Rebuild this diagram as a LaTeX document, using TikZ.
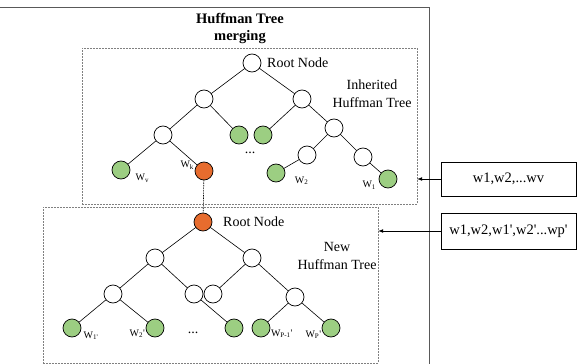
\documentclass[tikz,border=0pt]{standalone}
\usepackage{fontspec}
\setmainfont{Liberation Serif}
\usepackage{tikz}
\usepackage{tkz-graph}
\usetikzlibrary{arrows}

\definecolor{leafgreen}{RGB}{156,206,130}
\definecolor{mergeorange}{RGB}{231,108,46}

\tikzset{
  treebox/.style={draw=gray, dash pattern=on 2pt off 1pt, minimum width=335pt, minimum height=156pt, inner sep=0pt},
  listbox/.style={draw, line width=0.7pt, minimum width=135pt, inner sep=0pt, font=\fontsize{14.5}{16}\selectfont},
  treetext/.style={font=\fontsize{14}{18}\selectfont, align=center, inner sep=0pt},
  every label/.style={font=\rmfamily\fontsize{10}{11}\selectfont, inner sep=0pt}
}

\begin{document}
\begin{tikzpicture}[x=1pt,y=1pt]
            \clip (0,0) rectangle (579,-364);
            \draw[line width=0.9pt, gray!70!black] (0,-7) -- (429,-7) -- (429,-364);
            \node[treetext, font=\rmfamily\bfseries\fontsize{14.5}{17}\selectfont] (title) at (240,-28.5) {Huffman Tree\\merging};

            \node[treebox] (oldbox) at (249.5,-126) {};
            \node[treebox] (newbox) at (210.5,-285) {};

            \node[listbox, minimum height=34pt] (oldlist) at (508.5,-179) {w1,w2,...wv};
            \node[listbox, minimum height=36pt] (newlist) at (508.5,-231) {w1,w2,w1\textquotesingle,w2\textquotesingle...wp\textquotesingle};

            \node[treetext, anchor=west] (oldrootlabel) at (267,-63) {Root Node};
            \node[treetext] (oldtreelabel) at (372,-94) {Inherited\\Huffman Tree};
            \node[treetext, anchor=west] (newrootlabel) at (223,-222) {Root Node};
            \node[treetext] (newtreelabel) at (337,-256) {New\\Huffman Tree};
            \node[treetext] (olddots) at (250,-153) {...};
            \node[treetext] (newdots) at (193,-333) {...};

            \GraphInit[vstyle=Classic];

            \SetVertexNormal[MinSize=18pt,FillColor=white,LineWidth=0.7pt]
            \Vertex[NoLabel,x=252,y=-63]{ir};
            \Vertex[NoLabel,x=204,y=-99]{ia};
            \Vertex[NoLabel,x=302,y=-99]{ib};
            \Vertex[NoLabel,x=163,y=-135]{ic};
            \Vertex[NoLabel,x=334,y=-128]{id};
            \Vertex[NoLabel,x=307,y=-155]{ie};
            \Vertex[NoLabel,x=363,y=-157]{if};
            \Vertex[NoLabel,x=155,y=-258]{na};
            \Vertex[NoLabel,x=252,y=-258]{nb};
            \Vertex[NoLabel,x=113,y=-294]{nc};
            \Vertex[NoLabel,x=194,y=-294]{nd};
            \Vertex[NoLabel,x=213,y=-294]{ne};
            \Vertex[NoLabel,x=295,y=-297]{nf};

            \SetVertexNormal[MinSize=18pt,FillColor=leafgreen,LineWidth=0.7pt]
            \Vertex[NoLabel,x=239,y=-135]{iga};
            \Vertex[NoLabel,x=263,y=-135]{igb};
            \Vertex[LabelOut,L={W\textsubscript{v}},Lpos=-15,Ldist=6pt,x=121,y=-170]{wv};
            \Vertex[LabelOut,L={W\textsubscript{2}},Lpos=-10,Ldist=10pt,x=276,y=-173]{wtwo};
            \Vertex[LabelOut,L={W\textsubscript{1}},Lpos=190,Ldist=3pt,x=388,y=-179]{wone};
            \Vertex[LabelOut,L={W\textsubscript{1\textquotesingle}},Lpos=-18,Ldist=3pt,x=72,y=-328]{mone};
            \Vertex[LabelOut,L={W\textsubscript{2}\textquotesingle},Lpos=190,Ldist=1pt,x=155,y=-328]{mtwo};
            \Vertex[NoLabel,x=234,y=-328]{mg};
            \Vertex[LabelOut,L={W\textsubscript{P-1}\textquotesingle},Lpos=-10,Ldist=1pt,x=261,y=-328]{mpp};
            \Vertex[LabelOut,L={W\textsubscript{P}\textquotesingle},Lpos=195,Ldist=1pt,x=331,y=-328]{mp};

            \SetVertexNormal[MinSize=18pt,FillColor=mergeorange,LineWidth=0.7pt]
            \Vertex[LabelOut,L={W\textsubscript{k}},Lpos=170,Ldist=1pt,x=204,y=-171]{wk};
            \Vertex[NoLabel,x=203,y=-222]{nr};

            \tikzset{EdgeStyle/.append style={black,line width=0.6pt}};
            \Edge(ir)(ia);
            \Edge(ir)(ib);
            \Edge(ia)(ic);
            \Edge(ia)(iga);
            \Edge(ib)(igb);
            \Edge(ib)(id);
            \Edge(ic)(wv);
            \Edge(ic)(wk);
            \Edge(id)(ie);
            \Edge(id)(if);
            \Edge(ie)(wtwo);
            \Edge(if)(wone);

            \Edge(nr)(na);
            \Edge(nr)(nb);
            \Edge(na)(nc);
            \Edge(na)(nd);
            \Edge(nb)(ne);
            \Edge(nb)(nf);
            \Edge(nc)(mone);
            \Edge(nc)(mtwo);
            \Edge(nd)(mg);
            \Edge(nf)(mpp);
            \Edge(nf)(mp);

            \tikzset{EdgeStyle/.append style={dash pattern=on 1.5pt off 1pt}};
            \Edge(wk)(nr);

            \draw[-latex, line width=0.7pt] (oldlist.west) -- (oldlist.west -| oldbox.east);
            \draw[-latex, line width=0.7pt] (newlist.west) -- (newlist.west -| newbox.east);
          \end{tikzpicture}
\end{document}
